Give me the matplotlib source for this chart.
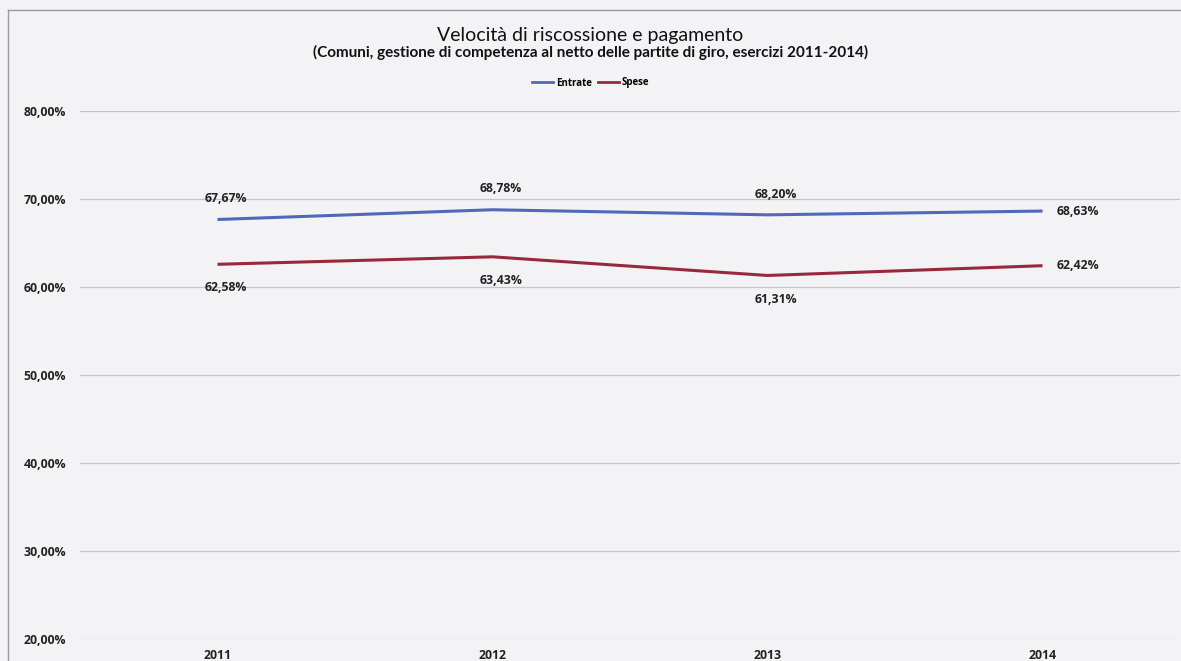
import matplotlib
matplotlib.use("Agg")
import matplotlib.pyplot as plt
from matplotlib.lines import Line2D

years = ["2011", "2012", "2013", "2014"]
entrate = [67.67, 68.78, 68.20, 68.63]
spese = [62.58, 63.43, 61.31, 62.42]
yticks = [20, 30, 40, 50, 60, 70, 80]

def fmt(v):
    return f"{v:.2f}".replace(".", ",") + "%"

plt.rcParams['font.family'] = ['Lato', 'DejaVu Sans']
LFONT = ['Open Sans', 'DejaVu Sans']

W, H = 1181, 661
fig = plt.figure(figsize=(W / 100, H / 100), dpi=100)
fig.patch.set_facecolor("#f3f3f6")

ax = fig.add_axes([80 / W, (H - 639) / H, 1100 / W, (639 - 111) / H])
ax.set_facecolor("none")
x = list(range(len(years)))

ax.plot(x, entrate, color="#5068b8", lw=2.2, solid_capstyle="butt")
ax.plot(x, spese, color="#98283c", lw=2.2, solid_capstyle="butt")

ax.set_xlim(-0.5, len(years) - 0.5)
ax.set_ylim(20, 80)
ax.set_yticks(yticks)
ax.set_yticklabels([fmt(v) for v in yticks])
ax.set_xticks(x)
ax.set_xticklabels(years)
LBL = 8.8
for lab in ax.get_yticklabels() + ax.get_xticklabels():
    lab.set_family(LFONT)
    lab.set_fontweight("bold")
    lab.set_fontsize(LBL)
    lab.set_color("#222222")
ax.tick_params(axis="y", length=0, pad=10)
ax.tick_params(axis="x", length=0, pad=7)
ax.grid(axis="y", color="#c4c4c8", lw=0.9)
ax.set_axisbelow(True)
for s in ax.spines.values():
    s.set_visible(False)

# data labels
for i, (e, s) in enumerate(zip(entrate, spese)):
    kw = dict(textcoords="offset points", fontsize=LBL, fontweight="bold", color="#222222",
              va="center", family=LFONT)
    if i == len(years) - 1:
        ax.annotate(fmt(e), (i, e), xytext=(10, 0), ha="left", **kw)
        ax.annotate(fmt(s), (i, s), xytext=(10, 0), ha="left", **kw)
    else:
        ax.annotate(fmt(e), (i, e), xytext=(6, 15), ha="center", **kw)
        ax.annotate(fmt(s), (i, s), xytext=(6, -17), ha="center", **kw)

# titles
fig.text(0.5, (H - 36) / H, "Velocità di riscossione e pagamento", ha="center", va="center",
         fontsize=14, color="#111111")
fig.text(0.5, (H - 52) / H,
         "(Comuni, gestione di competenza al netto delle partite di giro, esercizi 2011-2014)",
         ha="center", va="center", fontsize=11, fontweight="bold", color="#111111")

# legend
handles = [Line2D([0], [0], color="#5068b8", lw=2),
           Line2D([0], [0], color="#98283c", lw=2)]
fig.legend(handles, ["Entrate", "Spese"], loc="center", bbox_to_anchor=(0.5, (H - 83) / H),
           ncol=2, frameon=False, prop={"size": 7, "weight": "bold", "family": LFONT},
           handlelength=2.2, handletextpad=0.3, columnspacing=0.6)

# chart border lines (left and top)
fig.add_artist(Line2D([8 / W, 8 / W], [0, (H - 10) / H], color="#9a9a9a", lw=1))
fig.add_artist(Line2D([8 / W, 1], [(H - 10) / H, (H - 10) / H], color="#9a9a9a", lw=1))

fig.savefig("out.png", dpi=100, facecolor=fig.get_facecolor())
